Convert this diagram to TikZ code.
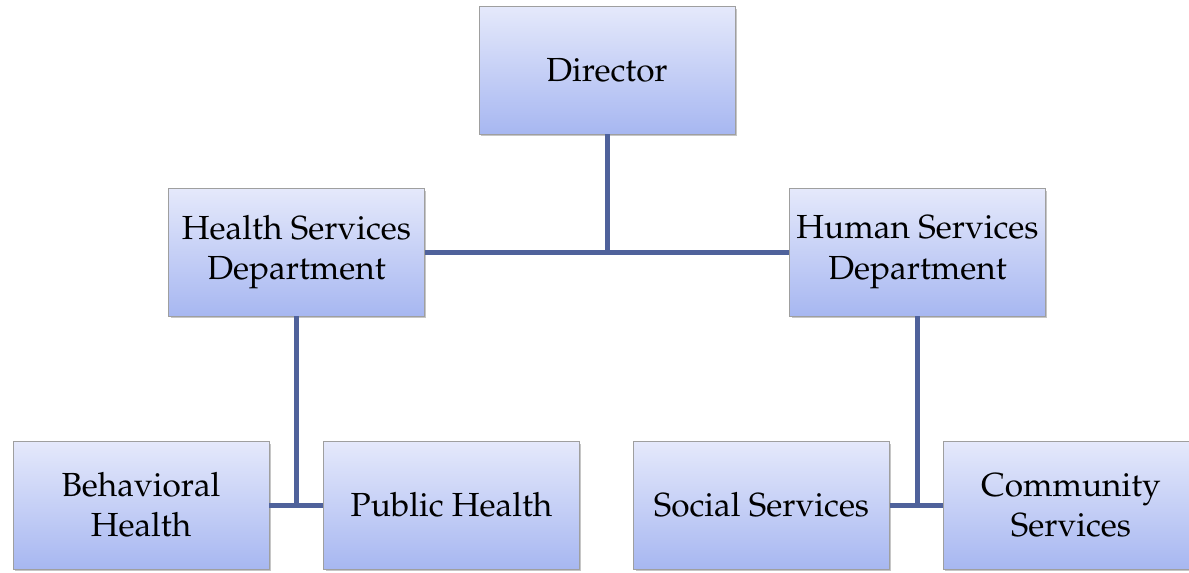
\documentclass[tikz,border=0pt]{standalone}
\usepackage[T1]{fontenc}
\usepackage{mathpazo}
\usetikzlibrary{shadows}
\definecolor{boxtop}{RGB}{229,233,251}
\definecolor{boxbottom}{RGB}{167,183,241}
\definecolor{linkblue}{RGB}{79,98,155}
\begin{document}
\begin{tikzpicture}[
	x=0.02cm, y=-0.02cm,
	unit/.style={rectangle, draw=gray!75, line width=0.5pt,
		minimum width=5.12cm, minimum height=2.56cm,
		top color=boxtop, bottom color=boxbottom,
		align=center, font=\fontsize{19}{23}\selectfont,
		drop shadow={shadow xshift=0.04cm, shadow yshift=-0.05cm, fill=gray, opacity=0.45}},
	link/.style={linkblue, line width=0.1cm},
	]
\useasboundingbox (0,0) rectangle (1189,572);
\node [unit] (dir) at (607,70) {Director};
\node [unit] (hsd) at (296.5,252) {Health Services\\Department};
\node [unit] (hum) at (917.5,252) {Human Services\\Department};
\node [unit] (bh) at (141,505) {Behavioral\\Health};
\node [unit] (ph) at (451.5,505) {Public Health};
\node [unit] (ss) at (761.5,505) {Social Services};
\node [unit] (cs) at (1071,505) {Community\\Services};
% connectors
  \draw[link] (hsd.east) -- (hum.west);
  \draw[link] (dir.south) -- (dir |- hsd.east);
  \draw[link] (bh.east) -- (ph.west);
  \draw[link] (hsd.south) -- (hsd |- bh.east);
  \draw[link] (ss.east) -- (cs.west);
  \draw[link] (hum.south) -- (hum |- ss.east);
\end{tikzpicture}
\end{document}
